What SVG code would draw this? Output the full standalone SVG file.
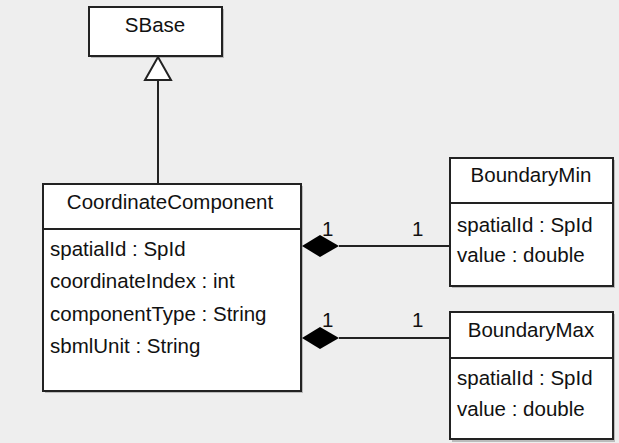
<svg xmlns="http://www.w3.org/2000/svg" width="619" height="443" viewBox="0 0 619 443">
<style>
.box{fill:#ffffff;stroke:#222222;stroke-width:2}
.shadow{fill:#bbbbbb}
.div{stroke:#222222;stroke-width:2}
text{font-family:"Liberation Sans",Arial,sans-serif;font-size:20.5px;fill:#111111}
.t{text-anchor:middle}
.line{stroke:#222222;stroke-width:2;fill:none}
</style>
<rect width="619" height="443" fill="#eeeeee"/>
<g id="SBase">
<rect class="shadow" x="91" y="9" width="133" height="49"/>
<rect class="box" x="89" y="7" width="133" height="49"/>
<text class="t" x="155" y="32">SBase</text>
</g>
<g id="CoordinateComponent">
<rect class="shadow" x="45" y="186" width="258" height="207"/>
<rect class="box" x="43" y="184" width="258" height="207"/>
<line class="div" x1="43" y1="229" x2="301" y2="229"/>
<text class="t" x="170" y="209">CoordinateComponent</text>
<text x="50" y="256">spatialId : SpId</text>
<text x="50" y="288">coordinateIndex : int</text>
<text x="50" y="321">componentType : String</text>
<text x="50" y="353">sbmlUnit : String</text>
</g>
<g id="BoundaryMin">
<rect class="shadow" x="452" y="160" width="163" height="128"/>
<rect class="box" x="450" y="158" width="163" height="128"/>
<line class="div" x1="450" y1="203" x2="613" y2="203"/>
<text class="t" x="531" y="182">BoundaryMin</text>
<text x="457" y="232">spatialId : SpId</text>
<text x="457" y="262">value : double</text>
</g>
<g id="BoundaryMax">
<rect class="shadow" x="452" y="314" width="163" height="128"/>
<rect class="box" x="450" y="312" width="163" height="127"/>
<line class="div" x1="450" y1="358" x2="613" y2="358"/>
<text class="t" x="531" y="337">BoundaryMax</text>
<text x="457" y="385">spatialId : SpId</text>
<text x="457" y="416">value : double</text>
</g>
<g id="connectors">
<line class="line" x1="158" y1="80" x2="158" y2="184"/>
<polygon points="158,57 145,80 171,80" fill="#ffffff" stroke="#222222" stroke-width="2"/>
<line class="line" x1="339" y1="246" x2="450" y2="246"/>
<polygon points="302,246 320,235 339,246 320,257" fill="#000000"/>
<line class="line" x1="339" y1="338" x2="450" y2="338"/>
<polygon points="302,338 320,327 339,338 320,349" fill="#000000"/>
<text x="322" y="236">1</text>
<text x="412" y="236">1</text>
<text x="322" y="327">1</text>
<text x="412" y="327">1</text>
</g>
</svg>
